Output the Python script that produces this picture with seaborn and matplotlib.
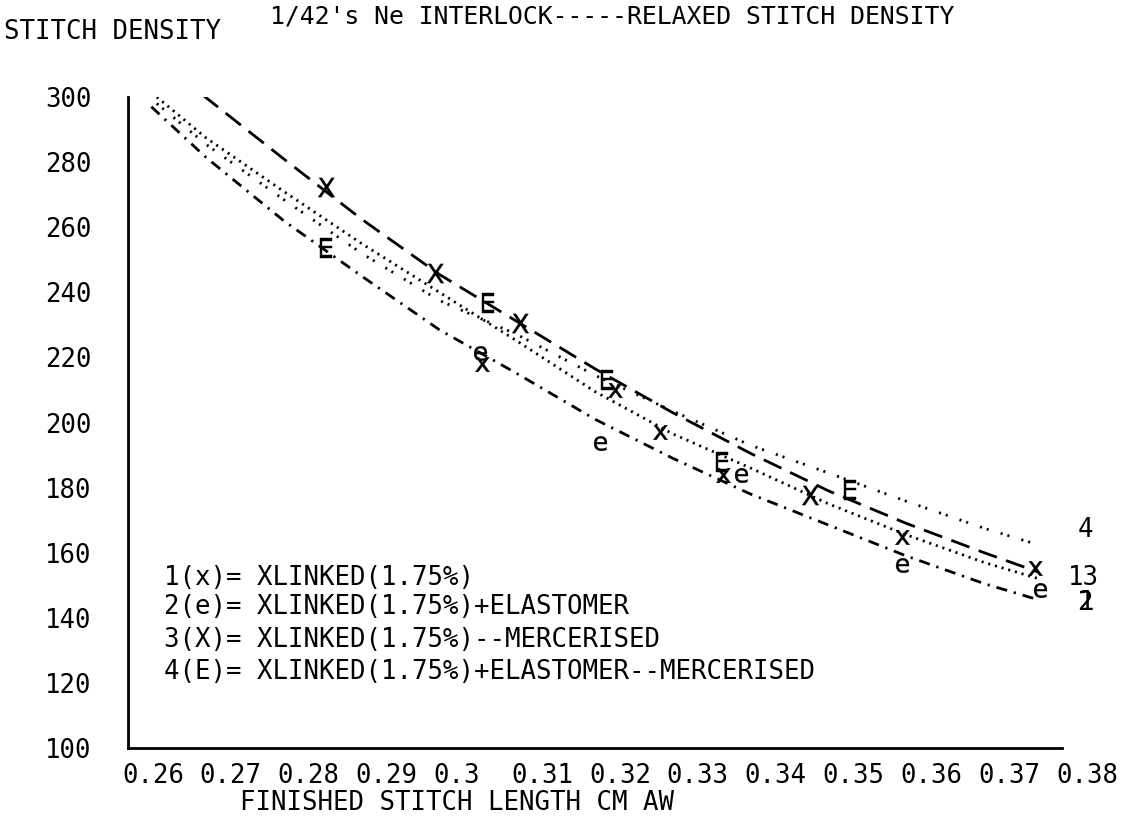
import matplotlib
matplotlib.use("Agg")
import matplotlib.pyplot as plt
import matplotlib.transforms as mtransforms
import seaborn as sns
import pandas as pd

# ---------------- data ----------------
TITLE = "1/42's Ne INTERLOCK-----RELAXED STITCH DENSITY"
Y_TITLE = "STITCH DENSITY"
X_TITLE = "FINISHED STITCH LENGTH CM AW"
x_tick_values = [0.26, 0.27, 0.28, 0.29, 0.30, 0.31, 0.32, 0.33, 0.34, 0.35, 0.36, 0.37, 0.38]
x_tick_labels = ["0.26", "0.27", "0.28", "0.29", "0.3", "0.31", "0.32", "0.33",
                 "0.34", "0.35", "0.36", "0.37", "0.38"]
y_tick_values = [100, 120, 140, 160, 180, 200, 220, 240, 260, 280, 300]

legend_lines = ["1(x)= XLINKED(1.75%)",
                "2(e)= XLINKED(1.75%)+ELASTOMER",
                "3(X)= XLINKED(1.75%)--MERCERISED",
                "4(E)= XLINKED(1.75%)+ELASTOMER--MERCERISED"]

# fitted curves
curve1_x = [0.2637, 0.27, 0.28, 0.29, 0.30, 0.31, 0.32, 0.33, 0.34, 0.35, 0.36, 0.37, 0.377]
curve1_y = [300.0, 287.5, 271.0, 255.0, 240.0, 225.0, 209.5, 196.5, 186.0, 175.0, 165.5, 157.0, 152.0]

curve2_x = [0.263, 0.27, 0.28, 0.29, 0.30, 0.31, 0.32, 0.33, 0.34, 0.35, 0.36, 0.37, 0.377]
curve2_y = [297.0, 281.5, 262.0, 245.0, 228.5, 215.0, 201.0, 189.0, 178.0, 168.5, 159.0, 150.5, 145.5]

curve3_x = [0.2696, 0.28, 0.29, 0.30, 0.31, 0.32, 0.33, 0.34, 0.35, 0.36, 0.37, 0.377]
curve3_y = [300.6, 281.0, 262.5, 245.5, 231.0, 216.5, 203.0, 190.5, 179.0, 169.0, 160.0, 154.0]

curve4_x = [0.2637, 0.27, 0.28, 0.29, 0.30, 0.31, 0.32, 0.33, 0.34, 0.35, 0.36, 0.37, 0.377]
curve4_y = [298.0, 285.5, 268.5, 252.0, 237.5, 227.0, 214.5, 203.5, 193.0, 184.5, 175.8, 167.5, 162.4]

# measured points
pts1_x = [0.3055, 0.3226, 0.3284, 0.3365, 0.3594, 0.3765]
pts1_y = [218.0, 210.0, 197.2, 183.9, 164.9, 155.2]
pts2_x = [0.3052, 0.3206, 0.3388, 0.3594, 0.3772]
pts2_y = [221.3, 193.7, 183.9, 156.2, 148.5]
pts3_x = [0.2855, 0.2994, 0.3104, 0.3476]
pts3_y = [272.4, 245.8, 230.5, 177.7]
pts4_x = [0.2855, 0.3063, 0.3215, 0.3363, 0.3528]
pts4_y = [253.5, 236.6, 213.0, 188.0, 179.3]

end_labels = ["4", "13", "2", "1"]
end_label_x = [0.3820, 0.3808, 0.3820, 0.3822]
end_label_y = [167.0, 152.2, 144.5, 144.5]

# ---------------- style ----------------
sns.set_theme(style="white")
plt.rcParams['font.family'] = ['DejaVu Sans Mono', 'DejaVu Sans']
plt.rcParams['lines.scale_dashes'] = False

W, H = 1128, 821
fig = plt.figure(figsize=(W / 100, H / 100), dpi=100)
L, R, T, B = 128, 1062, 97, 748
ax = fig.add_axes([L / W, 1 - B / H, (R - L) / W, (B - T) / H])

FS = 18.5
styles = [
    (curve1_x, curve1_y, (1.5, 3.5)),
    (curve2_x, curve2_y, (8, 5, 1.6, 5)),
    (curve3_x, curve3_y, (14, 7)),
    (curve4_x, curve4_y, (1.5, 3.6, 1.5, 9)),
]
for cx, cy, dash in styles:
    df = pd.DataFrame({"x": cx, "y": cy})
    sns.lineplot(data=df, x="x", y="y", ax=ax, color="black", lw=2.0, sort=True)
    ax.lines[-1].set_dashes(dash)

markers = [
    (pts1_x, pts1_y, r'$\mathrm{x}$', 110),
    (pts2_x, pts2_y, r'$\mathrm{e}$', 110),
    (pts3_x, pts3_y, r'$\mathrm{X}$', 190),
    (pts4_x, pts4_y, r'$\mathrm{E}$', 190),
]
for px, py, mk, s in markers:
    sns.scatterplot(x=px, y=py, ax=ax, marker=mk, s=s, color="black",
                    linewidth=0.3, edgecolor="black", zorder=5)

ax.set_xlim(0.26, 0.38)
ax.set_ylim(100, 300)
ax.set_xticks(x_tick_values)
ax.set_xticklabels(x_tick_labels, ha="left")
ax.set_yticks(y_tick_values)
ax.set_yticklabels([str(v) for v in y_tick_values])
ax.set_xlabel("")
ax.set_ylabel("")
for sp in ["top", "right"]:
    ax.spines[sp].set_visible(False)
for sp in ["left", "bottom"]:
    ax.spines[sp].set_color("black")
    ax.spines[sp].set_linewidth(2.0)
ax.tick_params(axis="both", direction="in", length=7, width=1.6, color="black",
               labelsize=FS, labelcolor="black")
ax.tick_params(axis="x", pad=11)
ax.tick_params(axis="y", pad=26)
offset = mtransforms.ScaledTranslation(-6 / 100, 0, fig.dpi_scale_trans)
for lab in ax.get_xticklabels():
    lab.set_transform(lab.get_transform() + offset)
ax.grid(False)
ax.set_facecolor("white")

for lab, lx, ly in zip(end_labels, end_label_x, end_label_y):
    ax.text(lx, ly, lab, fontsize=FS, ha="left", va="center", color="black", clip_on=False)

# legend block text
leg_y = [578, 607, 640, 672]
for txt, yy in zip(legend_lines, leg_y):
    fig.text(164 / W, 1 - yy / H, txt, fontsize=FS, ha="left", va="center", color="black")

fig.text(612 / W, 1 - 17 / H, TITLE, fontsize=17.8, ha="center", va="center", color="black")
fig.text(4 / W, 1 - 32 / H, Y_TITLE, fontsize=FS, ha="left", va="center", color="black")
fig.text(240 / W, 1 - 803 / H, X_TITLE, fontsize=FS, ha="left", va="center", color="black")

fig.savefig("out.png", dpi=100, facecolor="white")
